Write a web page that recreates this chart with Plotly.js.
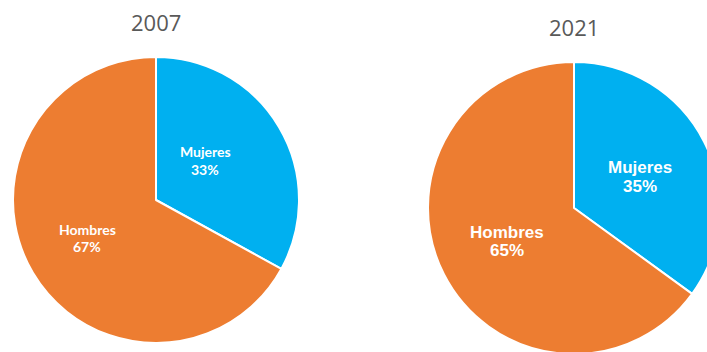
<!DOCTYPE html>
<html><head><meta charset="utf-8">
<script src="https://cdn.plot.ly/plotly-3.0.1.min.js"></script>
<style>html,body{margin:0;padding:0;overflow:hidden;background:#fff;width:707px;height:352px}</style>
</head><body><div id="chart"></div>
<script>
const labels = ["Mujeres", "Hombres"];
const years = ["2007", "2021"];
const values2007 = [33, 67];
const values2021 = [35, 65];
const colors = ["#00B0F0", "#ED7D31"];

const W = 730, H = 362;
const px = x => x / W, py = y => 1 - y / H;

function pie(vals, cx, cy, r) {
  return {
    type: "pie", labels: labels, values: vals, sort: false, direction: "clockwise", rotation: 0,
    marker: {colors: colors, line: {color: "#ffffff", width: 2}},
    textinfo: "none", hoverinfo: "label+percent", showlegend: false,
    domain: {x: [px(cx - r), px(cx + r)], y: [py(cy + r), py(cy - r)]}
  };
}

const data = [pie(values2007, 156, 200, 143), pie(values2021, 574, 208, 146)];

// [x, y of name line, y of percent line]
const lblPos = [
  [[205, 151, 169], [87, 229, 246]],
  [[640, 168, 186], [507, 232, 250]]
];
const lblFont = [
  {family: "Lato, 'Open Sans', sans-serif", size: 14, color: "#ffffff", weight: "bold"},
  {family: "'Liberation Sans', Arial, sans-serif", size: 17, color: "#ffffff", weight: "bold"}
];
const allVals = [values2007, values2021];
const annotations = [];
years.forEach((yr, k) => {
  annotations.push({text: yr, x: px(k === 0 ? 156 : 574), y: py(k === 0 ? 22 : 27), xref: "paper", yref: "paper",
    showarrow: false, xanchor: "center", yanchor: "middle",
    font: {family: "'Open Sans', Lato, sans-serif", size: 22, color: "#595959"}});
  labels.forEach((lb, i) => {
    const p = lblPos[k][i];
    annotations.push({text: "<b>" + lb + "</b>", x: px(p[0]), y: py(p[1]),
      xref: "paper", yref: "paper", showarrow: false, xanchor: "center", yanchor: "middle", font: lblFont[k]});
    annotations.push({text: "<b>" + allVals[k][i] + "%</b>", x: px(p[0]), y: py(p[2]),
      xref: "paper", yref: "paper", showarrow: false, xanchor: "center", yanchor: "middle", font: lblFont[k]});
  });
});

Plotly.newPlot("chart", data, {
  width: W, height: H, margin: {l: 0, r: 0, t: 0, b: 0},
  paper_bgcolor: "#ffffff", annotations: annotations
}, {displayModeBar: false, staticPlot: true});
</script></body></html>
